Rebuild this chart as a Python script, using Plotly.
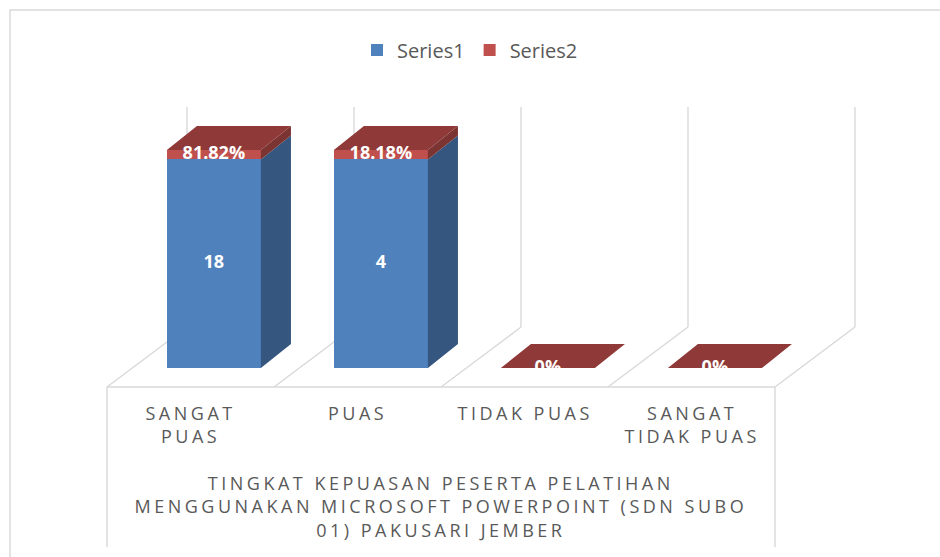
import plotly.graph_objects as go

# ---------------- data ----------------
categories = ["SANGAT<br>PUAS", "PUAS", "TIDAK PUAS", "SANGAT<br>TIDAK PUAS"]
series1 = [18, 4, 0, 0]
series2 = [0.8182, 0.1818, 0, 0]
series_names = ["Series1", "Series2"]
axis_title = "TINGKAT KEPUASAN PESERTA PELATIHAN<br>MENGGUNAKAN MICROSOFT POWERPOINT (SDN SUBO<br>01) PAKUSARI JEMBER"

# ---------------- style / geometry ----------------
W, H = 940, 557
PX_X, X_LEFT_PX = 167.0, 107.0      # px per category, px of left floor edge
PX_Y, Y0_PX = 2.18, 368.0           # px per percent, px of bar base
FLOOR_FRONT_Y = -8.7
FLOOR_DX, FLOOR_DY = 0.479, 27.5
WALL_TOP_Y = 119.7
BOX_BOTTOM_Y = -82.1
BAR_SHIFT, BAR_W = 0.14, 0.563
BAR_DX, BAR_DY = 0.18, 11.0

C_BLUE, C_BLUE_SIDE = "#4F81BD", "#34567F"
C_RED, C_RED_SIDE, C_RED_TOP = "#C0504D", "#7B3432", "#8F3A38"
C_GRID, C_TEXT = "#D9D9D9", "#595959"
FONT = "Open Sans"

x_range = [(0 - X_LEFT_PX) / PX_X - 0.5, (W - X_LEFT_PX) / PX_X - 0.5]
y_range = [(Y0_PX - H) / PX_Y, Y0_PX / PX_Y]

n = len(categories)
totals = [a + b for a, b in zip(series1, series2)]
share1 = [100 * a / t if t else 0 for a, t in zip(series1, totals)]
share2 = [100 * b / t if t else 0 for b, t in zip(series2, totals)]
lab1 = [str(v) if v else "" for v in series1]
lab2 = [f"{v:.2%}" if v else "0%" for v in series2]
xs = [i + BAR_SHIFT for i in range(n)]

fig = go.Figure()

# front faces (library bars, stacked)
fig.add_trace(go.Bar(name=series_names[0], x=xs, y=share1, width=BAR_W,
                     marker=dict(color=C_BLUE, line=dict(width=0))))
fig.add_trace(go.Bar(name=series_names[1], x=xs, y=share2, width=BAR_W,
                     marker=dict(color=C_RED, line=dict(width=0))))

# side faces
def side_poly(xr, y0, y1):
    return ([xr, xr, xr + BAR_DX, xr + BAR_DX, xr, None],
            [y0, y1, y1 + BAR_DY, y0 + BAR_DY, y0, None])

for shares, base_fn, col in [
    (share1, lambda i: 0, C_BLUE_SIDE),
    (share2, lambda i: share1[i], C_RED_SIDE),
]:
    px_, py_ = [], []
    for i in range(n):
        if shares[i] <= 0:
            continue
        xr = xs[i] + BAR_W / 2
        a, b = side_poly(xr, base_fn(i), base_fn(i) + shares[i])
        px_ += a
        py_ += b
    if px_:
        fig.add_trace(go.Scatter(x=px_, y=py_, mode="lines", fill="toself",
                                 fillcolor=col, line=dict(width=0, color=col),
                                 hoverinfo="skip", showlegend=False))

# top faces
tx, ty = [], []
for i in range(n):
    top = share1[i] + share2[i]
    xl, xr = xs[i] - BAR_W / 2, xs[i] + BAR_W / 2
    tx += [xl, xr, xr + BAR_DX, xl + BAR_DX, xl, None]
    ty += [top, top, top + BAR_DY, top + BAR_DY, top, None]
fig.add_trace(go.Scatter(x=tx, y=ty, mode="lines", fill="toself",
                         fillcolor=C_RED_TOP, line=dict(width=0, color=C_RED_TOP),
                         hoverinfo="skip", showlegend=False))

# data labels
lab_font = dict(family=FONT, size=18, color="white", weight="bold")
fig.add_trace(go.Scatter(x=xs, y=[s / 2 for s in share1], mode="text", text=lab1,
                         textfont=lab_font, textposition="middle center",
                         hoverinfo="skip", showlegend=False, cliponaxis=False))
fig.add_trace(go.Scatter(x=xs, y=[a + b / 2 for a, b in zip(share1, share2)],
                         mode="text", text=lab2, textfont=lab_font,
                         textposition="middle center",
                         hoverinfo="skip", showlegend=False, cliponaxis=False))

# walls / floor lines
shapes = []
line = dict(color=C_GRID, width=1.4)
bounds = [i - 0.5 for i in range(n + 1)]
for b in bounds:
    shapes.append(dict(type="line", xref="x", yref="y", layer="below",
                       x0=b + FLOOR_DX, y0=FLOOR_FRONT_Y + FLOOR_DY,
                       x1=b + FLOOR_DX, y1=WALL_TOP_Y, line=line))
    shapes.append(dict(type="line", xref="x", yref="y", layer="below",
                       x0=b, y0=FLOOR_FRONT_Y,
                       x1=b + FLOOR_DX, y1=FLOOR_FRONT_Y + FLOOR_DY, line=line))
shapes.append(dict(type="line", xref="x", yref="y", layer="below",
                   x0=bounds[0], y0=FLOOR_FRONT_Y, x1=bounds[-1], y1=FLOOR_FRONT_Y, line=line))
for b in (bounds[0], bounds[-1]):
    shapes.append(dict(type="line", xref="x", yref="y", layer="below",
                       x0=b, y0=FLOOR_FRONT_Y, x1=b, y1=BOX_BOTTOM_Y, line=line))
# chart outer border
shapes.append(dict(type="rect", xref="paper", yref="paper", layer="below",
                   x0=10 / W, x1=1.05, y0=-0.05, y1=1 - 10 / H,
                   line=dict(color=C_GRID, width=1.4)))

annotations = []
for i, c in enumerate(categories):
    annotations.append(dict(x=i, y=(Y0_PX - 399) / PX_Y, xref="x", yref="y",
                            text=c, showarrow=False, xanchor="center", yanchor="top",
                            font=dict(family=FONT, size=18, color=C_TEXT)))
annotations.append(dict(x=(bounds[0] + bounds[-1]) / 2, y=(Y0_PX - 506) / PX_Y,
                        xref="x", yref="y", text=axis_title, showarrow=False,
                        xanchor="center", yanchor="middle",
                        font=dict(family=FONT, size=18, color=C_TEXT)))

fig.update_layout(
    width=W, height=H, margin=dict(l=0, r=0, t=0, b=0),
    paper_bgcolor="white", plot_bgcolor="white",
    barmode="stack", bargap=0,
    xaxis=dict(range=x_range, visible=False, fixedrange=True),
    yaxis=dict(range=y_range, visible=False, fixedrange=True),
    showlegend=True,
    legend=dict(orientation="h", x=0.5, xanchor="center", y=1 - 50 / H,
                yanchor="middle", traceorder="normal",
                font=dict(family=FONT, size=20, color=C_TEXT),
                itemwidth=30, bgcolor="rgba(0,0,0,0)"),
    shapes=shapes, annotations=annotations,
)

post = """
document.body.style.margin='0';
var gd = document.getElementById('{plot_id}');
function ls(){ gd.querySelectorAll('g.annotation text').forEach(function(t){ t.style.letterSpacing='3.5px'; }); }
ls(); gd.on('plotly_afterplot', ls);
"""
fig.write_html("out.html", post_script=post, config={"displayModeBar": False})
